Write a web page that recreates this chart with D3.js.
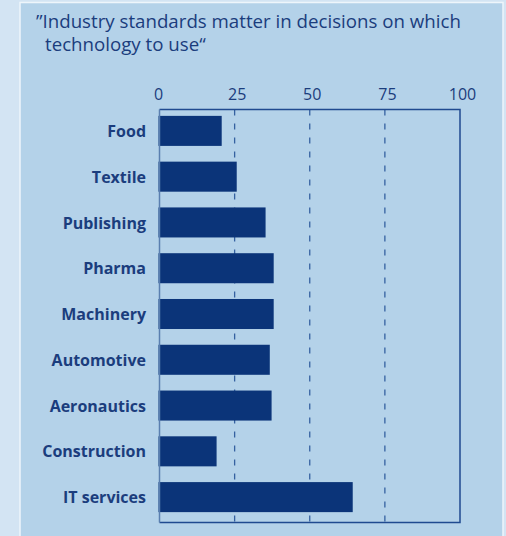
<!DOCTYPE html>
<html>
<head>
<meta charset="utf-8">
<script src="https://cdn.jsdelivr.net/npm/d3@7"></script>
<style>
  html, body { margin: 0; padding: 0; background: #d3e4f3; }
  svg { display: block; }
</style>
</head>
<body>
<svg id="chart"></svg>
<script>
const industries = ["Food", "Textile", "Publishing", "Pharma", "Machinery", "Automotive", "Aeronautics", "Construction", "IT services"];
const shares = [20.7, 25.7, 35.3, 38.0, 38.0, 36.7, 37.3, 19.0, 64.3];
const ticks = [0, 25, 50, 75, 100];
const titleLines = ["\u201DIndustry standards matter in decisions on which", "technology to use\u201C"];

function draw() {
    const width = 506, height = 536;
    const svg = d3.select("#chart").attr("width", width).attr("height", height);
    const font = "'Open Sans', 'Noto Sans', sans-serif";
    const ink = "#1b3d7d";

    // outer strip + panel with thin white edge
    svg.append("rect").attr("width", width).attr("height", height).attr("fill", "#d3e4f3");
    svg.append("rect")
        .attr("x", 20).attr("y", 2.5).attr("width", 483).attr("height", 540)
        .attr("fill", "#b4d2e9").attr("stroke", "#eef5fb").attr("stroke-width", 1.5);

    svg.append("g").selectAll("text")
        .data(titleLines)
        .enter()
        .append("text")
        .attr("x", (d, i) => i === 0 ? 36 : 45)
        .attr("y", (d, i) => 27.5 + i * 23)
        .attr("font-family", font)
        .attr("font-size", "18.7px")
        .attr("fill", ink)
        .text(d => d);

    const x = d3.scaleLinear().domain([0, 100]).range([159.5, 460]);
    const y = d3.scaleBand()
        .domain(industries)
        .range([108, 520])
        .paddingInner(0.344)
        .paddingOuter(0.172);

    const top = 109.5, bottom = 522.5;

    // dashed gridlines
    svg.append("g").selectAll("line")
        .data(ticks.slice(1, -1))
        .enter()
        .append("line")
        .attr("x1", d => x(d)).attr("x2", d => x(d))
        .attr("y1", top).attr("y2", bottom)
        .attr("stroke", "#3561a0")
        .attr("stroke-width", 1.3)
        .attr("stroke-dasharray", "6,8");

    // bars
    svg.append("g").selectAll("rect")
        .data(industries)
        .enter()
        .append("rect")
        .attr("x", x(0) - 1)
        .attr("y", d => y(d))
        .attr("width", (d, i) => x(shares[i]) - x(0) + 1)
        .attr("height", y.bandwidth())
        .attr("fill", "#0b3479");

    // frame
    svg.append("path")
        .attr("d", `M${x(0)},${top}H${x(100)}V${bottom}H${x(0)}`)
        .attr("fill", "none")
        .attr("stroke", "#1f4a90")
        .attr("stroke-width", 1.5);
    svg.append("line")
        .attr("x1", x(0)).attr("x2", x(0))
        .attr("y1", top).attr("y2", bottom)
        .attr("stroke", "#5a7fb0")
        .attr("stroke-width", 1.5);

    // top axis labels
    const axis = svg.append("g")
        .attr("transform", `translate(0,${top - 10})`)
        .call(d3.axisTop(x).tickValues(ticks).tickSize(0).tickPadding(0));
    axis.select(".domain").remove();
    axis.selectAll("text")
        .attr("font-family", font)
        .attr("font-size", "16px")
        .attr("fill", ink)
        .attr("dx", d => d === 0 ? -1.5 : 2);

    // category labels
    const yAxis = svg.append("g")
        .attr("transform", "translate(146,1)")
        .call(d3.axisLeft(y).tickSize(0).tickPadding(0));
    yAxis.select(".domain").remove();
    yAxis.selectAll("text")
        .attr("font-family", font)
        .attr("font-size", "16px")
        .attr("font-weight", "bold")
        .attr("fill", ink);
}

draw();
</script>
</body>
</html>
